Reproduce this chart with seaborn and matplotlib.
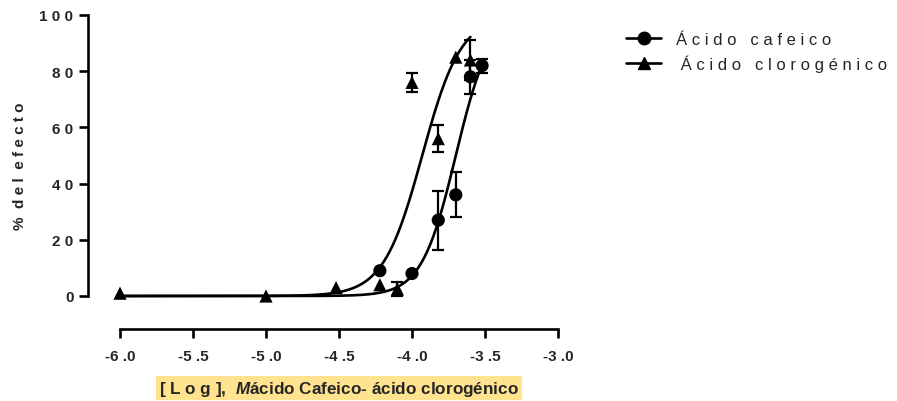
import numpy as np
import pandas as pd
import matplotlib
matplotlib.use("Agg")
import matplotlib.pyplot as plt
from matplotlib.lines import Line2D
import seaborn as sns

# Mean response (% of effect) and SEM at each log molar concentration
caf_logc = [-4.22, -4.00, -3.82, -3.70, -3.60, -3.52]
caf_resp = [9.0, 8.0, 27.0, 36.0, 78.0, 82.0]
caf_sem = [0.0, 0.0, 10.5, 8.0, 6.0, 2.5]

clo_logc = [-6.00, -5.00, -4.52, -4.22, -4.10, -4.00, -3.82, -3.70, -3.60]
clo_resp = [1.0, 0.0, 3.0, 4.0, 2.5, 76.0, 56.0, 85.0, 84.0]
clo_sem = [0.0, 0.0, 0.0, 0.0, 2.5, 3.5, 4.8, 0.0, 7.0]

# Fitted sigmoidal dose-response parameters (bottom 0, top 100)
caf_logec50, caf_hill = -3.70, 3.7
clo_logec50, clo_hill = -3.93, 3.25

series_names = ["Á c i d o   c a f e i c o", " Á c i d o   c l o r o g é n i c o"]
x_ticks = [-6.0, -5.5, -5.0, -4.5, -4.0, -3.5, -3.0]
x_tick_labels = ["-6 .0", "-5 .5", "-5 .0", "-4 .5", "-4 .0", "-3 .5", "-3 .0"]
y_ticks = [0, 20, 40, 60, 80, 100]
y_tick_labels = ["0", "2 0", "4 0", "6 0", "8 0", "1 0 0"]


def hill(x, logec50, slope, bottom=0.0, top=100.0):
    return bottom + (top - bottom) / (1.0 + 10.0 ** ((logec50 - x) * slope))


sns.set_theme(style="ticks")
plt.rcParams["font.family"] = ["Liberation Sans", "DejaVu Sans"]
plt.rcParams["mathtext.fontset"] = "custom"
plt.rcParams["mathtext.it"] = "Liberation Sans:italic:bold"
plt.rcParams["mathtext.rm"] = "Liberation Sans:bold"

points = pd.DataFrame({
    "logc": caf_logc + clo_logc,
    "resp": caf_resp + clo_resp,
    "sem": caf_sem + clo_sem,
    "serie": [series_names[0]] * len(caf_logc) + [series_names[1]] * len(clo_logc),
})

x_caf = np.linspace(-6.0, max(caf_logc), 400)
x_clo = np.linspace(-6.0, max(clo_logc), 400)
curves = pd.DataFrame({
    "logc": np.concatenate([x_caf, x_clo]),
    "resp": np.concatenate([hill(x_caf, caf_logec50, caf_hill),
                            hill(x_clo, clo_logec50, clo_hill)]),
    "serie": [series_names[0]] * len(x_caf) + [series_names[1]] * len(x_clo),
})

fig = plt.figure(figsize=(8.97, 4.02), dpi=100)
ax = fig.add_axes([120 / 897, 105 / 402, 438 / 897, 281 / 402])

palette = {series_names[0]: "black", series_names[1]: "black"}
markers = {series_names[0]: "o", series_names[1]: "^"}

sns.lineplot(data=curves, x="logc", y="resp", hue="serie", palette=palette,
             linewidth=1.9, legend=False, ax=ax, clip_on=False, sort=False,
             units="serie", estimator=None)

for name in series_names:
    sub = points[(points["serie"] == name) & (points["sem"] > 0)]
    ax.errorbar(sub["logc"], sub["resp"], yerr=sub["sem"], fmt="none",
                ecolor="black", elinewidth=1.6, capsize=4.5, capthick=1.6,
                clip_on=False, zorder=3)

sns.scatterplot(data=points, x="logc", y="resp", hue="serie", style="serie",
                palette=palette, markers=markers, s=90, edgecolor="black",
                linewidth=0, legend=False, ax=ax, clip_on=False, zorder=4)

ax.set_xlim(-6.0, -3.0)
ax.set_ylim(0, 100)
ax.set_xticks(x_ticks)
ax.set_xticklabels(x_tick_labels)
ax.set_yticks(y_ticks)
ax.set_yticklabels(y_tick_labels)

sns.despine(ax=ax)
ax.spines["left"].set_position(("outward", 23))
ax.spines["bottom"].set_position(("outward", 24))
for side in ("left", "bottom"):
    ax.spines[side].set_linewidth(1.9)
    ax.spines[side].set_color("black")
ax.tick_params(axis="both", length=6.5, width=1.9, color="black",
               labelsize=11)
ax.tick_params(axis="x", pad=8)
ax.tick_params(axis="y", pad=4)
for lab in ax.get_xticklabels() + ax.get_yticklabels():
    lab.set_fontweight("bold")

ax.set_ylabel("%  d e l  e f e c t o", fontsize=11, fontweight="bold")
ax.yaxis.set_label_coords(-0.212, 0.466)
ax.set_xlabel(r"[ L o g ],  $M$ácido Cafeico- ácido clorogénico",
              fontsize=12.3, fontweight="bold", labelpad=11,
              bbox=dict(facecolor="#FFE38E", edgecolor="none", pad=2.0))

handles = [
    Line2D([], [], color="black", linewidth=1.9, marker="o", markersize=9),
    Line2D([], [], color="black", linewidth=1.9, marker="^", markersize=9),
]
ax.legend(handles, series_names, loc="upper left",
          bbox_to_anchor=(626 / 897, 1 - 33 / 402), bbox_transform=fig.transFigure,
          frameon=False, fontsize=12, handlelength=2.1, handletextpad=0.9,
          labelspacing=0.45, borderaxespad=0, borderpad=0)

fig.savefig("out.png", dpi=100)
